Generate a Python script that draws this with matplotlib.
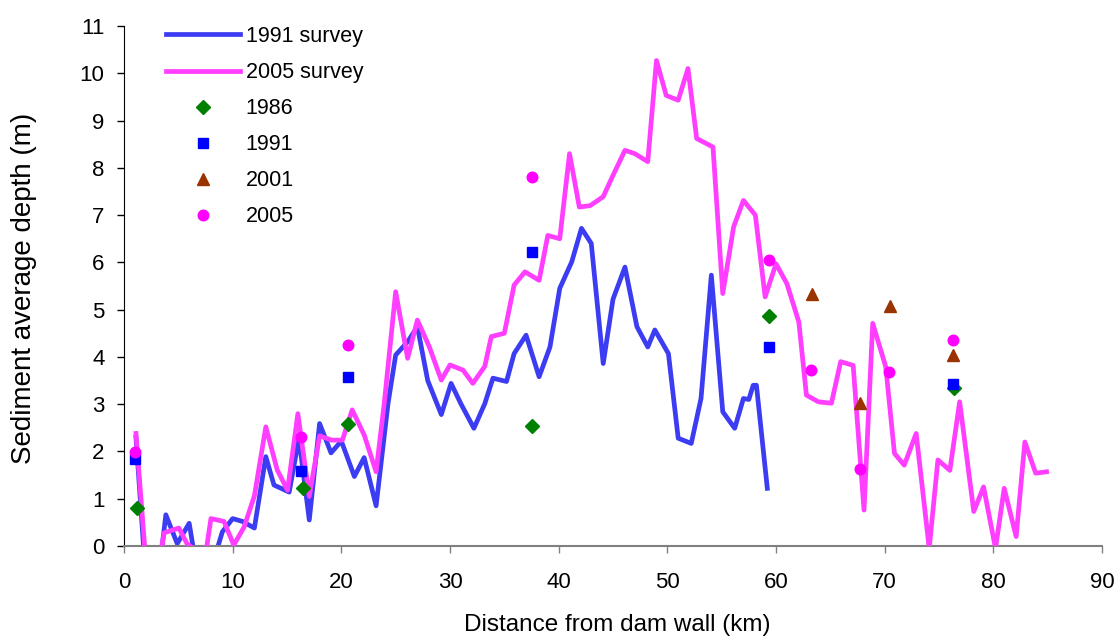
import matplotlib
matplotlib.use("Agg")
import matplotlib.pyplot as plt

plt.rcParams["font.family"] = ["Liberation Sans", "DejaVu Sans"]

# ---------------------------
# Data
# ---------------------------
# 1991 survey profile (km, m)
s91_km = [1.1, 2.1, 3.0, 3.85, 4.9, 6.0, 6.7, 8.0, 9.05, 10.0, 10.9, 12.0, 13.05, 13.8,
          15.2, 16.1, 17.05, 18.0, 19.05, 20.0, 21.2, 22.1, 23.2, 24.3, 25.0, 26.1, 27.0,
          27.95, 29.2, 30.1, 31.0, 32.2, 33.2, 33.95, 35.2, 35.9, 37.0, 38.2, 39.2, 40.1,
          41.2, 42.1, 43.0, 44.1, 45.0, 46.1, 47.2, 48.2, 48.85, 50.1, 51.0, 52.2, 53.1,
          54.05, 55.1, 56.2, 57.0, 57.5, 57.9, 58.2, 59.2]
s91_depth = [2.3, -1.0, -1.0, 0.66, 0.05, 0.48, -0.5, -0.5, 0.30, 0.58, 0.52, 0.38, 1.89, 1.29,
             1.14, 2.28, 0.55, 2.59, 1.97, 2.22, 1.47, 1.87, 0.85, 3.02, 4.04, 4.32, 4.64,
             3.5, 2.78, 3.44, 3.01, 2.49, 3.01, 3.55, 3.48, 4.07, 4.46, 3.58, 4.21, 5.45,
             6.01, 6.72, 6.4, 3.86, 5.22, 5.9, 4.64, 4.21, 4.57, 4.07, 2.28, 2.17, 3.12,
             5.73, 2.84, 2.49, 3.12, 3.1, 3.4, 3.4, 1.22]

# 2005 survey profile (km, m)
s05_km = [1.1, 2.1, 3.0, 3.7, 5.05, 5.8, 6.6, 7.3, 8.0, 9.2,
          10.1, 11.05, 12.0, 13.05, 14.1, 15.05, 16.0, 17.05, 18.0, 19.1,
          20.1, 21.0, 22.1, 23.2, 23.95, 25.0, 26.1, 27.0, 28.1, 29.2,
          30.0, 31.2, 32.1, 33.2, 33.8, 35.0, 35.9, 36.9, 38.2, 39.0,
          40.1, 41.0, 41.9, 42.9, 44.1, 45.0, 46.1, 47.0, 48.2, 49.0,
          49.9, 51.0, 51.9, 52.7, 54.2, 55.1, 56.1, 57.0, 58.1, 59.0,
          60.0, 61.0, 62.1, 62.8, 63.9, 65.1, 65.95, 67.1, 68.1, 68.9,
          70.1, 70.9, 71.8, 72.9, 74.1, 74.9, 76.0, 76.9, 78.2, 79.1,
          80.2, 81.0, 82.1, 82.9, 83.9, 84.9]
s05_depth = [2.38, -0.6, -0.6, 0.28, 0.38, 0.05, -0.1, -0.5, 0.58, 0.52,
             0.02, 0.4, 1.06, 2.52, 1.61, 1.18, 2.8, 1.05, 2.33, 2.24,
             2.24, 2.88, 2.35, 1.57, 3.02, 5.38, 3.97, 4.78, 4.21, 3.51,
             3.83, 3.72, 3.44, 3.8, 4.43, 4.5, 5.52, 5.8, 5.62, 6.57,
             6.5, 8.3, 7.17, 7.2, 7.39, 7.84, 8.37, 8.3, 8.13, 10.27,
             9.53, 9.43, 10.1, 8.62, 8.44, 5.34, 6.75, 7.31, 7.0, 5.27,
             5.97, 5.55, 4.74, 3.19, 3.05, 3.02, 3.9, 3.82, 0.76, 4.71,
             3.79, 1.96, 1.71, 2.38, -0.05, 1.82, 1.6, 3.05, 0.73, 1.25,
             -0.05, 1.22, 0.2, 2.2, 1.54, 1.57]

# point measurements
p86_km = [1.2, 16.5, 20.6, 37.5, 59.4, 76.4]
p86_depth = [0.81, 1.22, 2.58, 2.54, 4.86, 3.35]
p91_km = [1.05, 16.3, 20.6, 37.5, 59.4, 76.3]
p91_depth = [1.84, 1.59, 3.58, 6.22, 4.2, 3.42]
p01_km = [63.3, 67.7, 70.5, 76.3]
p01_depth = [5.33, 3.02, 5.07, 4.03]
p05_km = [1.05, 16.3, 20.6, 37.5, 59.4, 63.2, 67.7, 70.4, 76.3]
p05_depth = [1.99, 2.3, 4.25, 7.8, 6.05, 3.72, 1.62, 3.68, 4.36]

x_ticks = list(range(0, 100, 10))
y_ticks = list(range(0, 12))

# ---------------------------
# Figure
# ---------------------------
fig = plt.figure(figsize=(11.2, 6.37), dpi=100)
ax = fig.add_axes([124 / 1120, 1 - 546 / 637, 978 / 1120, 520 / 637])

ax.plot(s91_km, s91_depth, color="#3C3CF2", lw=3.4, label="1991 survey", zorder=2)
ax.plot(s05_km, s05_depth, color="#FF3EFF", lw=3.4, label="2005 survey", zorder=3)

ax.plot(p86_km, p86_depth, ls="none", marker="D", ms=7, color="#008000",
        label="1986", zorder=4)
ax.plot(p91_km, p91_depth, ls="none", marker="s", ms=7.4, color="#0000FF",
        label="1991", zorder=5)
ax.plot(p01_km, p01_depth, ls="none", marker="^", ms=8.4, color="#993300",
        label="2001", zorder=6)
ax.plot(p05_km, p05_depth, ls="none", marker="o", ms=7.6, color="#FF00FF",
        label="2005", zorder=7)

ax.set_xlim(0, 90)
ax.set_ylim(0, 11)
ax.set_xticks(x_ticks)
ax.set_yticks(y_ticks)

ax.spines["top"].set_visible(False)
ax.spines["right"].set_visible(False)
ax.spines["left"].set_color("black")
ax.spines["bottom"].set_color("#808080")
ax.spines["bottom"].set_linewidth(1.5)

ax.tick_params(axis="x", direction="out", length=5, width=1, color="#808080",
               pad=14, labelsize=16)
ax.tick_params(axis="y", direction="out", length=5, width=1, color="black",
               pad=9, labelsize=16)

fig.text(617 / 1120, 1 - 625 / 637, "Distance from dam wall (km)",
         ha="center", va="center", fontsize=17.5)
fig.text(24 / 1120, 1 - 288 / 637, "Sediment average depth (m)",
         ha="center", va="center", rotation=90, fontsize=20)

ax.legend(loc="upper left", bbox_to_anchor=(166 / 1120, 1 - 26 / 637),
          bbox_transform=fig.transFigure, frameon=False, fontsize=15.5,
          handlelength=3.45, handletextpad=0.25, labelspacing=0.7,
          borderpad=0, borderaxespad=0, numpoints=1)

fig.savefig("out.png", dpi=100)
